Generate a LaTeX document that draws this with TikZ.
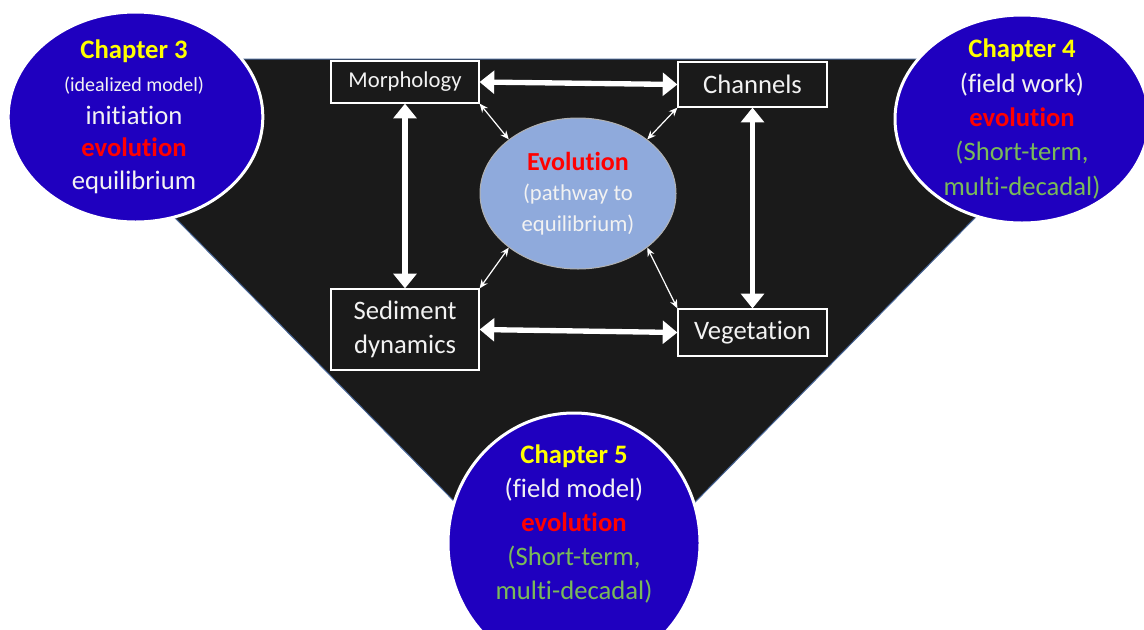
\documentclass[tikz,border=0pt]{standalone}
\usepackage{fontspec}
\setmainfont{Carlito}[RawFeature={-liga;-clig;-dlig}]
\usetikzlibrary{arrows.meta,shapes.geometric}
\definecolor{bg}{RGB}{26,26,26}
\definecolor{chapblue}{RGB}{31,0,191}
\definecolor{evblue}{RGB}{143,170,220}
\definecolor{ytext}{RGB}{255,255,0}
\definecolor{rtext}{RGB}{255,0,0}
\definecolor{gtext}{RGB}{122,186,88}
\definecolor{wtext}{RGB}{242,242,242}
\definecolor{edgeblue}{RGB}{70,100,150}
\tikzset{
  box/.style={draw=white, line width=0.9pt, fill=bg, text=wtext, inner sep=0pt,
    minimum width=111pt, align=center},
  chap/.style={ellipse, fill=chapblue, draw=white, line width=2.25pt, inner sep=0pt},
  chaptext/.style={align=center, text=wtext, inner sep=0pt},
  bigarrow/.style={draw=white, line width=4pt,
    {Triangle[length=11pt,width=17pt]}-{Triangle[length=11pt,width=17pt]}},
  smallarrow/.style={draw=white, line width=0.9pt,
    {Stealth[length=6.5pt,width=5.5pt]}-{Stealth[length=6.5pt,width=5.5pt]}}
}
\begin{document}
\begin{tikzpicture}[x=0.75pt,y=-0.75pt]
\useasboundingbox (0,0) rectangle (1144,629);
\clip (0,0) rectangle (1144,629);
\fill[white] (0,0) rectangle (1144,629);
% black triangle background (top corners hidden under the circles)
\filldraw[fill=bg, draw=edgeblue, line width=0.75pt]
  (60,59) -- (1090,59) -- (1091,100) -- (575,624) -- (59,100) -- cycle;

% boxes
\node[box, minimum height=31.5pt, font=\fontsize{17}{20}\selectfont] (morph) at (405,82) {Morphology};
\node[box, minimum width=111.75pt, minimum height=33.75pt, font=\fontsize{20}{24}\selectfont] (chan) at (752.5,84.5) {Channels};
\node[box, minimum height=60.75pt, font=\fontsize{20}{26}\selectfont] (sed) at (405,329.5) {Sediment\\dynamics};
\node[box, minimum width=111.75pt, minimum height=35.25pt, font=\fontsize{20}{24}\selectfont] (veg) at (752.5,332.5) {Vegetation};

% central ellipse
\node[ellipse, fill=evblue, draw=gray!60, line width=0.75pt, minimum width=147pt,
  minimum height=113.25pt, inner sep=0pt, align=center, text=wtext,
  font=\fontsize{17}{23}\selectfont] (ev) at (578,193.5)
  {{\fontsize{19.5}{23}\selectfont\bfseries\color{rtext}Evolution}\\(pathway to\\equilibrium)};

% thick arrows
\draw[bigarrow] (morph.east) -- (chan.west);
\draw[bigarrow] (morph.south) -- (sed.north);
\draw[bigarrow] (chan.south) -- (veg.north);
\draw[bigarrow] (sed.east) -- (veg.west);

% thin arrows
\draw[smallarrow] (morph.south east) -- (ev.142);
\draw[smallarrow] (chan.south west) -- (ev.38);
\draw[smallarrow] (sed.north east) -- (ev.218);
\draw[smallarrow] (veg.north west) -- (ev.322);

% chapter circles
\node[chap, minimum width=191pt, minimum height=157.5pt] (c3) at (135.5,117) {};
\node[chap, minimum width=190.5pt, minimum height=156pt] (c4) at (1022,119) {};
\node[chap, minimum width=189pt, minimum height=195pt] (c5) at (574,543) {};

\node[chaptext, font=\fontsize{20}{24.5}\selectfont] (c3t) at (134,117)
  {{\bfseries\color{ytext}Chapter 3}\\{\fontsize{15}{24.5}\selectfont(idealized model)}\\initiation\\{\bfseries\color{rtext}evolution}\\equilibrium};
\node[chaptext, font=\fontsize{20}{25.7}\selectfont] (c4t) at (1022,119)
  {{\bfseries\color{ytext}Chapter 4}\\(field work)\\{\bfseries\color{rtext}evolution}\\{\color{gtext}(Short-term,}\\{\color{gtext}multi-decadal)}};
\node[chaptext, font=\fontsize{20}{25.5}\selectfont] (c5t) at (574,524)
  {{\bfseries\color{ytext}Chapter 5}\\(field model)\\{\bfseries\color{rtext}evolution}\\{\color{gtext}(Short-term,}\\{\color{gtext}multi-decadal)}};
\end{tikzpicture}
\end{document}
